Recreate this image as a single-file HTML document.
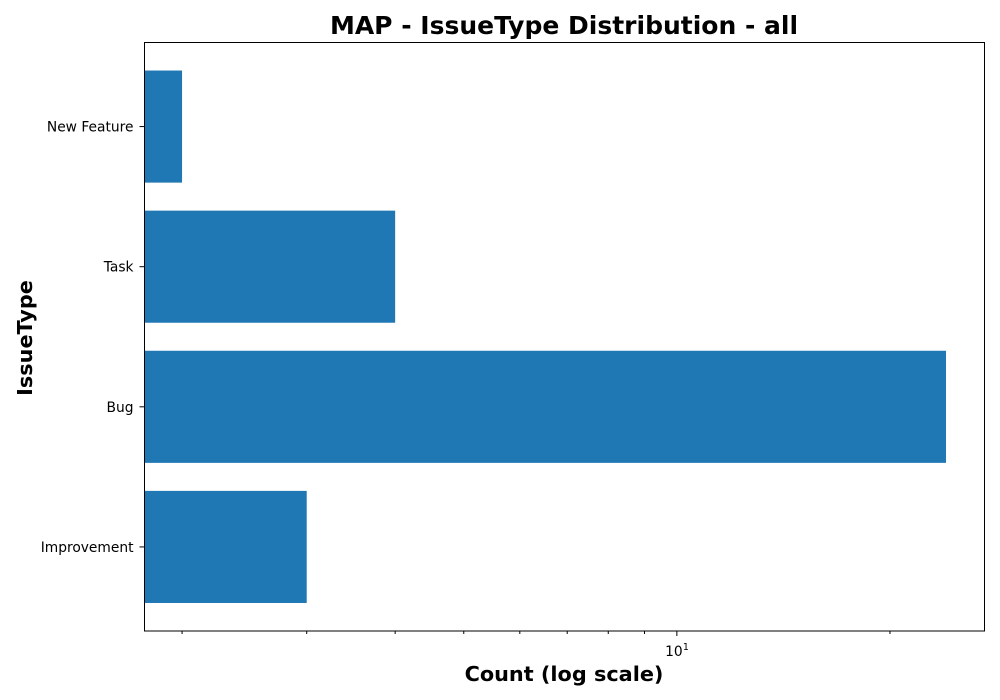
<!DOCTYPE html>
<html><head><meta charset="utf-8"><style>body{margin:0;background:#fff}svg{display:block}</style></head>
<body>
<svg width="1000" height="700" xmlns="http://www.w3.org/2000/svg" font-family="DejaVu Sans, Liberation Sans, sans-serif">
<text x="564" y="34" text-anchor="middle" font-size="25" font-weight="bold">MAP - IssueType Distribution - all</text>
<g id="bars"></g>
<rect x="144.5" y="42.5" width="840" height="588.5" fill="none" stroke="#000" stroke-width="1"/>
<g id="xticks"></g>
<g id="yticks"></g>
<text x="564" y="681" text-anchor="middle" font-size="20.8" font-weight="bold">Count (log scale)</text>
<text transform="translate(32,338) rotate(-90)" text-anchor="middle" font-size="20.8" font-weight="bold">IssueType</text>
</svg>
<script>
const categories = ["New Feature","Task","Bug","Improvement"];
const counts = [2,4,24,3];
const minorTicks = [2,3,4,5,6,7,8,9,20];
const majorTicks = [10];
const NS="http://www.w3.org/2000/svg";
const X0=144.5, X1=984.5, Y0=42.5, Y1=631;
const xmin=1.77, xmax=27.2;
function xs(v){return X0+(Math.log10(v)-Math.log10(xmin))/(Math.log10(xmax)-Math.log10(xmin))*(X1-X0);}
const n=categories.length;
const step=(Y1-Y0)/(n-1+1.2);
function yc(i){return Y0+step*(i+0.6);}
function mk(t,a,p){const e=document.createElementNS(NS,t);for(const k in a)e.setAttribute(k,a[k]);p.appendChild(e);return e;}
const bars=document.getElementById('bars'), xt=document.getElementById('xticks'), yt=document.getElementById('yticks');
categories.forEach((c,i)=>{
  const h=step*0.8;
  const r=mk('rect',{x:X0,y:yc(i)-h/2,width:xs(counts[i])-X0,height:h,fill:'#1f77b4'},bars);
  
  
  const l=mk('line',{x1:X0-5,x2:X0,y1:yc(i),y2:yc(i),stroke:'#000'},yt);
  
  
  const t=mk('text',{x:X0-11,y:yc(i)+5,'text-anchor':'end','font-size':13.8},yt);
  t.textContent=c;
  
  
});
minorTicks.forEach(v=>{
  const l=mk('line',{x1:xs(v),x2:xs(v),y1:Y1,y2:Y1+3,stroke:'#000'},xt);
  
  
});
majorTicks.forEach(v=>{
  const l=mk('line',{x1:xs(v),x2:xs(v),y1:Y1,y2:Y1+5,stroke:'#000'},xt);
  
  
  const t=mk('text',{x:xs(v)-3,y:Y1+25,'text-anchor':'middle','font-size':13.8},xt);
  t.textContent='10';
  
  
  const s=mk('text',{x:xs(v)+6,y:Y1+19,'font-size':9.5},xt);
  s.textContent=String(Math.round(Math.log10(v)));
  
  
});
</script>
</body></html>
